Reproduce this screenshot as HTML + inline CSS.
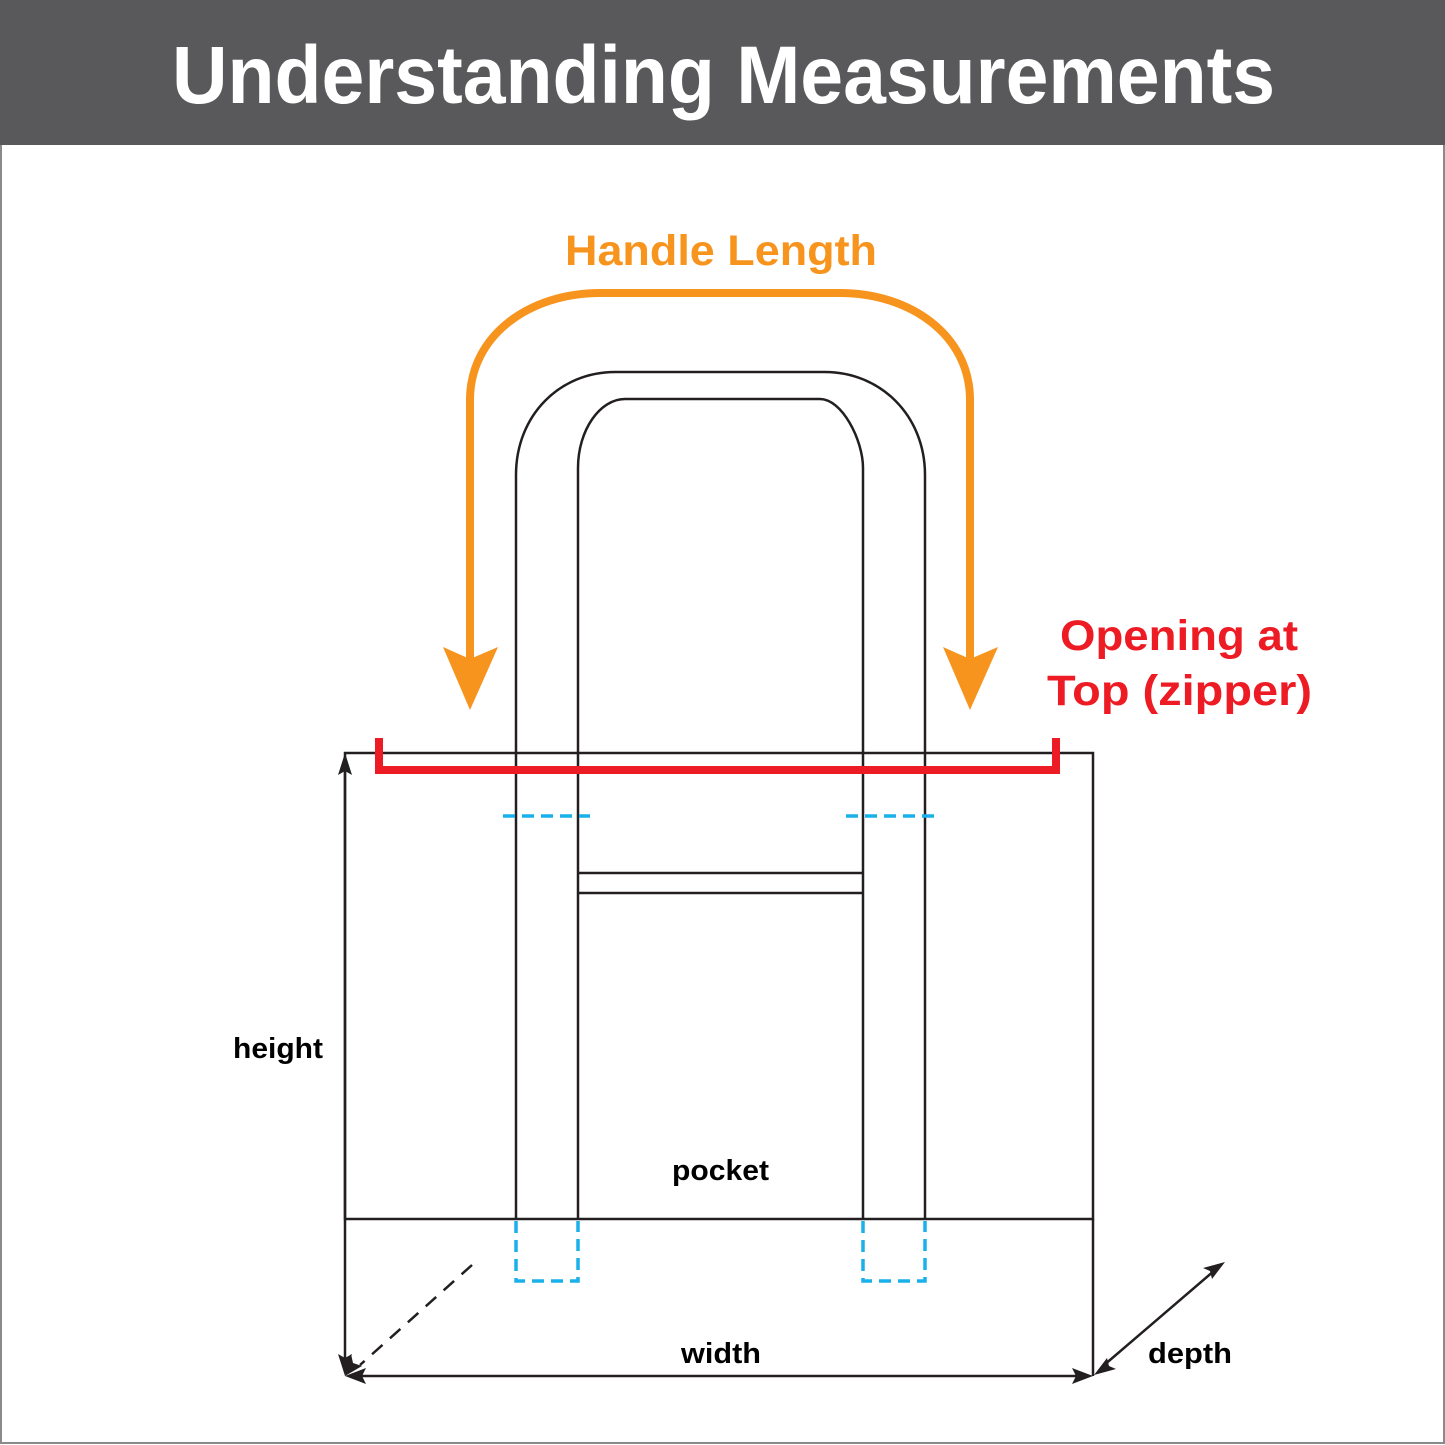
<!DOCTYPE html>
<html><head><meta charset="utf-8"><style>
html,body{margin:0;padding:0;background:#fff}
svg{display:block}
text{font-family:"Liberation Sans",sans-serif}
</style></head><body>
<svg width="1445" height="1445" viewBox="0 0 1445 1445" xmlns="http://www.w3.org/2000/svg">
<rect x="0" y="0" width="1445" height="1445" fill="#fff"/>
<rect x="1" y="1" width="1443" height="1442" fill="none" stroke="#8a8a8a" stroke-width="2"/>
<rect x="0" y="0" width="1445" height="145" fill="#59595b"/>
<text x="172" y="103" font-size="82" font-weight="bold" fill="#fff" textLength="1103" lengthAdjust="spacingAndGlyphs">Understanding Measurements</text>

<g fill="none" stroke="#231f20" stroke-width="2.5">
<rect x="345" y="753" width="748" height="466"/>
<line x1="578" y1="873" x2="863" y2="873"/>
<line x1="578" y1="893" x2="863" y2="893"/>
<path d="M516 1219 V475 C516 415 560 372 615 372 H825 C880 372 925 415 925 475 V1219"/>
<path d="M578 1219 V468 C578 430 600 399 625 399 H820 C842 399 863 440 863 468 V1219"/>
<line x1="345" y1="765" x2="345" y2="1365"/>
<line x1="1093" y1="1219" x2="1093" y2="1376"/>
<line x1="357" y1="1376" x2="1082" y2="1376"/>
<line x1="1103" y1="1366" x2="1215" y2="1270"/>
<line x1="472" y1="1265" x2="360" y2="1365" stroke-dasharray="14,10"/>
</g>
<g fill="#231f20">
<polygon points="345,753 338,775 345,771 352,775"/>
<polygon points="345,1376 338,1354 345,1358 352,1354"/>
<polygon points="345,1376 366,1368 362,1376 366,1384"/>
<polygon points="1093,1376 1072,1368 1076,1376 1072,1384"/>
<polygon points="1094,1375 1116,1369 1109,1366 1107,1358"/>
<polygon points="1225,1262 1203,1268 1210,1271 1212,1279"/>
<polygon points="345,1376 351,1354 353,1363 362,1366"/>
</g>

<g fill="none" stroke="#1ab0ea" stroke-width="3.5" stroke-dasharray="12,7">
<line x1="503" y1="816" x2="590" y2="816"/>
<line x1="846" y1="816" x2="937" y2="816"/>
<path d="M516 1221 V1281 H578 V1221"/>
<path d="M863 1221 V1281 H925 V1221"/>
</g>

<path d="M470 660 V400 C470 335 530 293 600 293 H840 C910 293 970 335 970 400 V660" fill="none" stroke="#f7941d" stroke-width="8"/>
<g fill="#f7941d">
<polygon points="443,647 470,659 498,647 470,710"/>
<polygon points="943,647 970,659 998,647 970,710"/>
</g>
<text x="565" y="265" font-size="43" font-weight="bold" fill="#f7941d" textLength="312" lengthAdjust="spacingAndGlyphs">Handle Length</text>

<path d="M379 738 V770 H1056 V738" fill="none" stroke="#ed1c24" stroke-width="8"/>
<text x="1060" y="650" font-size="43" font-weight="bold" fill="#ed1c24" textLength="238" lengthAdjust="spacingAndGlyphs">Opening at</text>
<text x="1047" y="705" font-size="43" font-weight="bold" fill="#ed1c24" textLength="265" lengthAdjust="spacingAndGlyphs">Top (zipper)</text>

<g font-size="29" font-weight="bold" fill="#000">
<text x="233" y="1058" textLength="90" lengthAdjust="spacingAndGlyphs">height</text>
<text x="672" y="1180" textLength="97" lengthAdjust="spacingAndGlyphs">pocket</text>
<text x="681" y="1363" textLength="80" lengthAdjust="spacingAndGlyphs">width</text>
<text x="1148" y="1363" textLength="84" lengthAdjust="spacingAndGlyphs">depth</text>
</g>
</svg>
</body></html>
